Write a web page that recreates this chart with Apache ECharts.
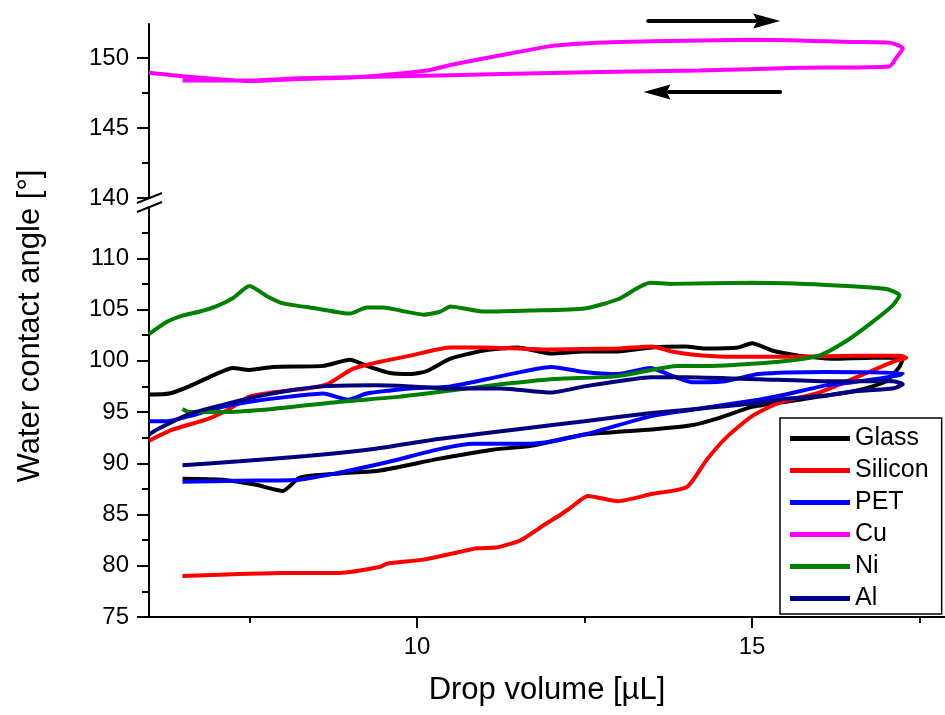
<!DOCTYPE html>
<html>
<head>
<meta charset="utf-8">
<title>Water contact angle vs drop volume</title>
<script src="https://cdn.jsdelivr.net/npm/echarts@6/dist/echarts.min.js"></script>
<style>
html, body { margin: 0; padding: 0; background: #ffffff; }
#main { width: 945px; height: 715px; }
</style>
</head>
<body>
<div id="main"></div>
<script>
// series names + colours (legend order)
var names = ['Glass', 'Silicon', 'PET', 'Cu', 'Ni', 'Al'];
var colors = ['#000000', '#ff0000', '#0000ff', '#ff00ff', '#008000', '#000080'];

// [drop volume µL, contact angle °] - advancing branch then receding branch
var glass = [[6.0,96.7],[6.3,96.8],[6.6,97.5],[7.0,98.7],[7.25,99.3],[7.5,99.1],[7.85,99.4],[8.6,99.5],[9.0,100.1],[9.25,99.5],[9.6,98.8],[9.9,98.7],[10.15,99.0],[10.5,100.2],[11.0,101.0],[11.5,101.3],[12.0,100.7],[12.5,100.9],[13.0,100.9],[13.5,101.3],[14.0,101.4],[14.3,101.2],[14.8,101.3],[15.0,101.7],[15.3,101.0],[15.7,100.5],[16.2,100.2],[16.8,100.3],[17.25,100.2],
    [17.2,99.4],[17.0,98.0],[16.8,97.5],[16.5,97.0],[16.0,96.5],[15.5,96.0],[15.0,95.5],[14.5,94.4],[14.1,93.7],[13.5,93.3],[12.5,92.8],[11.7,91.7],[11.1,91.3],[10.3,90.4],[9.45,89.3],[8.85,89.0],[8.25,88.6],[8.0,87.3],[7.6,87.9],[7.1,88.4],[6.5,88.5]];
var silicon = [[6.0,92.2],[6.36,93.3],[6.87,94.3],[7.2,95.3],[7.5,96.5],[7.96,97.0],[8.36,97.3],[8.66,97.7],[9.04,99.2],[9.45,99.9],[9.9,100.5],[10.5,101.3],[11.0,101.3],[12.0,101.1],[13.0,101.2],[13.5,101.4],[13.8,100.9],[14.1,100.6],[14.6,100.4],[15.6,100.4],[16.6,100.5],[17.2,100.5],[17.3,100.3],
    [17.1,99.9],[16.6,98.5],[16.0,96.9],[15.4,95.9],[15.0,94.6],[14.63,92.6],[14.33,90.4],[14.03,87.7],[13.5,87.0],[13.0,86.3],[12.55,86.8],[12.3,85.7],[12.1,84.8],[11.9,84.0],[11.55,82.5],[11.2,81.8],[10.9,81.7],[10.6,81.3],[10.1,80.6],[9.55,80.2],[9.45,79.9],[8.85,79.3],[8.0,79.3],[7.35,79.2],[6.5,79.0]];
var pet = [[6.0,94.1],[6.27,94.1],[6.6,94.6],[7.1,95.5],[7.6,96.1],[8.1,96.5],[8.6,96.8],[8.97,96.2],[9.25,96.8],[9.6,97.1],[9.9,97.3],[10.5,97.5],[11.25,98.5],[12.0,99.4],[12.5,98.9],[13.0,98.7],[13.48,99.3],[13.78,98.6],[14.1,97.9],[14.6,98.0],[15.1,98.7],[16.1,98.9],[17.25,98.8],
    [17.2,98.6],[16.5,97.9],[16.1,97.6],[15.5,96.7],[15.1,96.2],[14.5,95.6],[13.5,94.6],[12.5,92.8],[11.7,91.9],[10.85,91.9],[10.35,91.4],[9.55,90.1],[8.85,89.1],[8.25,88.4],[7.35,88.3],[6.5,88.2]];
var cu = [[6.0,148.95],[6.5,148.7],[7.5,148.35],[8.25,148.5],[9.0,148.6],[9.75,148.9],[10.2,149.15],[10.5,149.5],[11.25,150.2],[12.0,150.85],[12.75,151.1],[13.5,151.2],[15.0,151.3],[16.5,151.15],[17.05,151.1],[17.25,150.7],[17.15,150.0],[17.05,149.4],
    [15.7,149.3],[14.2,149.1],[12.75,149.0],[11.25,148.85],[9.75,148.7],[8.25,148.55],[7.5,148.4],[6.5,148.4]];
var ni = [[6.0,102.6],[6.27,103.8],[6.5,104.4],[6.76,104.8],[7.0,105.3],[7.25,106.1],[7.5,107.3],[7.76,106.3],[8.0,105.6],[8.5,105.1],[9.0,104.6],[9.25,105.2],[9.5,105.2],[9.75,104.9],[10.1,104.5],[10.35,104.8],[10.5,105.3],[11.0,104.8],[11.7,104.9],[12.5,105.1],[13.0,106.0],[13.48,107.6],[13.8,107.5],[15.0,107.6],[16.1,107.4],[17.0,107.0],[17.2,106.4],
    [17.1,105.4],[16.8,103.8],[16.4,101.9],[16.0,100.5],[15.4,99.9],[14.4,99.5],[13.9,99.5],[13.0,98.5],[12.0,98.2],[11.25,97.7],[10.5,97.1],[9.75,96.5],[8.85,96.0],[7.85,95.3],[7.1,95.0],[6.6,95.0],[6.5,95.3]];
var al = [[6.0,92.8],[6.12,93.3],[6.6,94.8],[7.1,95.7],[7.6,96.5],[8.1,97.1],[8.6,97.5],[9.35,97.6],[9.9,97.5],[10.5,97.3],[11.25,97.3],[12.0,96.9],[12.5,97.5],[13.0,98.0],[13.5,98.4],[14.0,98.4],[15.1,98.2],[16.1,98.0],[17.1,98.0],[17.25,97.7],
    [17.1,97.3],[16.5,97.0],[16.1,96.6],[15.5,96.3],[15.1,95.9],[14.5,95.5],[13.5,94.9],[12.5,94.1],[11.6,93.4],[10.35,92.4],[9.35,91.4],[8.35,90.7],[7.35,90.2],[6.5,89.8]];

// tick values
var xMajor = [10, 15];
var xMinor = [7.5, 12.5, 17.5];
var yLowMajor = [75, 80, 85, 90, 95, 100, 105, 110];
var yLowMinor = [77.5, 82.5, 87.5, 92.5, 97.5, 102.5, 107.5, 112.5];
var yHighMajor = [140, 145, 150];
var yHighMinor = [142.5, 147.5];

// direction arrows (data coords of upper panel)
var arrowAdvance = [[13.45, 152.64], [15.42, 152.64]];
var arrowRecede = [[15.42, 147.57], [13.38, 147.57]];

var FONT = '"Liberation Sans", Arial, sans-serif';
var X_MIN = 6, X_MAX = 17.88;

var axisLineStyle = { color: '#000', width: 2 };

function majorY(grid, min, max, ticks) {
    return {
        type: 'value', gridIndex: grid, position: 'left', min: min, max: max,
        axisLine: { show: true, lineStyle: axisLineStyle },
        axisTick: { show: true, customValues: ticks, length: 12, lineStyle: { width: 2, color: '#000' } },
        axisLabel: { customValues: ticks, fontSize: 24, color: '#000', fontFamily: FONT, margin: 20 },
        splitLine: { show: false }
    };
}
function minorY(grid, min, max, ticks) {
    return {
        type: 'value', gridIndex: grid, position: 'left', min: min, max: max,
        axisLine: { show: false },
        axisTick: { show: true, customValues: ticks, length: 7, lineStyle: { width: 2, color: '#000' } },
        axisLabel: { show: false },
        splitLine: { show: false }
    };
}

function lineSeries(i, data, xi, yi) {
    return {
        name: names[i], type: 'line', data: data,
        xAxisIndex: xi, yAxisIndex: yi,
        showSymbol: false, symbol: 'none',
        smooth: 0.2,
        color: colors[i],
        lineStyle: { width: 4, color: colors[i] },
        animation: false
    };
}

option = {
    backgroundColor: '#ffffff',
    grid: [
        { left: 149, width: 796, top: 24, height: 174 },
        { left: 149, width: 796, top: 207, height: 410 }
    ],
    xAxis: [
        { type: 'value', gridIndex: 0, min: X_MIN, max: X_MAX, show: false },
        {
            type: 'value', gridIndex: 1, position: 'bottom', min: X_MIN, max: X_MAX,
            axisLine: { show: true, lineStyle: axisLineStyle },
            axisTick: { show: true, customValues: xMajor, length: 11, lineStyle: { width: 2, color: '#000' } },
            axisLabel: { customValues: xMajor, fontSize: 24, color: '#000', fontFamily: FONT, margin: 18 },
            splitLine: { show: false },
            name: 'Drop volume [µL]',
            nameLocation: 'middle',
            nameGap: 58,
            nameTextStyle: { fontSize: 31, color: '#000', fontFamily: FONT }
        },
        {
            type: 'value', gridIndex: 1, position: 'bottom', min: X_MIN, max: X_MAX,
            axisLine: { show: false },
            axisTick: { show: true, customValues: xMinor, length: 6, lineStyle: { width: 2, color: '#000' } },
            axisLabel: { show: false },
            splitLine: { show: false }
        }
    ],
    yAxis: [
        majorY(0, 140, 152.43, yHighMajor),
        minorY(0, 140, 152.43, yHighMinor),
        majorY(1, 75, 115, yLowMajor),
        minorY(1, 75, 115, yLowMinor)
    ],
    legend: {
        data: names,
        orient: 'vertical',
        left: 780, top: 418,
        icon: 'rect',
        itemWidth: 60, itemHeight: 5,
        itemGap: 7,
        padding: [8, 13, 3, 10],
        borderColor: '#000', borderWidth: 1.5,
        backgroundColor: '#fff',
        selectedMode: false,
        textStyle: { fontSize: 25, lineHeight: 25, color: '#000', fontFamily: FONT }
    },
    series: [
        lineSeries(0, glass, 1, 2),
        lineSeries(1, silicon, 1, 2),
        lineSeries(2, pet, 1, 2),
        lineSeries(3, cu, 0, 0),
        lineSeries(4, ni, 1, 2),
        lineSeries(5, al, 1, 2)
    ]
};

var myChart = echarts.init(document.getElementById('main'));
myChart.setOption(option);

// axis break marks + arrows, placed through the axes
function arrow(pts) {
    var a = myChart.convertToPixel({ xAxisIndex: 0, yAxisIndex: 0 }, pts[0]);
    var b = myChart.convertToPixel({ xAxisIndex: 0, yAxisIndex: 0 }, pts[1]);
    var dir = b[0] > a[0] ? 1 : -1;
    var headLen = 27, headHalf = 7.5;
    var base = b[0] - dir * headLen;
    return [
        { type: 'line', shape: { x1: a[0], y1: a[1], x2: base + dir * 2, y2: b[1] }, style: { stroke: '#000', lineWidth: 4, lineCap: 'round' }, z: 10 },
        { type: 'polygon', shape: { points: [[b[0], b[1]], [base, b[1] - headHalf], [base + dir * 4, b[1]], [base, b[1] + headHalf]] }, style: { fill: '#000' }, z: 10 }
    ];
}
var pTop = myChart.convertToPixel({ xAxisIndex: 0, yAxisIndex: 0 }, [X_MIN, 140]);
var pBot = myChart.convertToPixel({ xAxisIndex: 1, yAxisIndex: 2 }, [X_MIN, 115]);
var breakStyle = { stroke: '#000', lineWidth: 2 };
var graphics = [
    { type: 'line', shape: { x1: pTop[0] - 12, y1: pTop[1] + 5, x2: pTop[0] + 13, y2: pTop[1] - 5 }, style: breakStyle, z: 10 },
    { type: 'line', shape: { x1: pBot[0] - 12, y1: pBot[1] + 5, x2: pBot[0] + 13, y2: pBot[1] - 5 }, style: breakStyle, z: 10 },
    {
        type: 'text', x: 30, y: 326, rotation: Math.PI / 2,
        style: { text: 'Water contact angle [°]', font: '31px ' + FONT, fill: '#000', align: 'center', verticalAlign: 'middle' }
    }
].concat(arrow(arrowAdvance), arrow(arrowRecede));
myChart.setOption({ graphic: graphics });
</script>
</body>
</html>
